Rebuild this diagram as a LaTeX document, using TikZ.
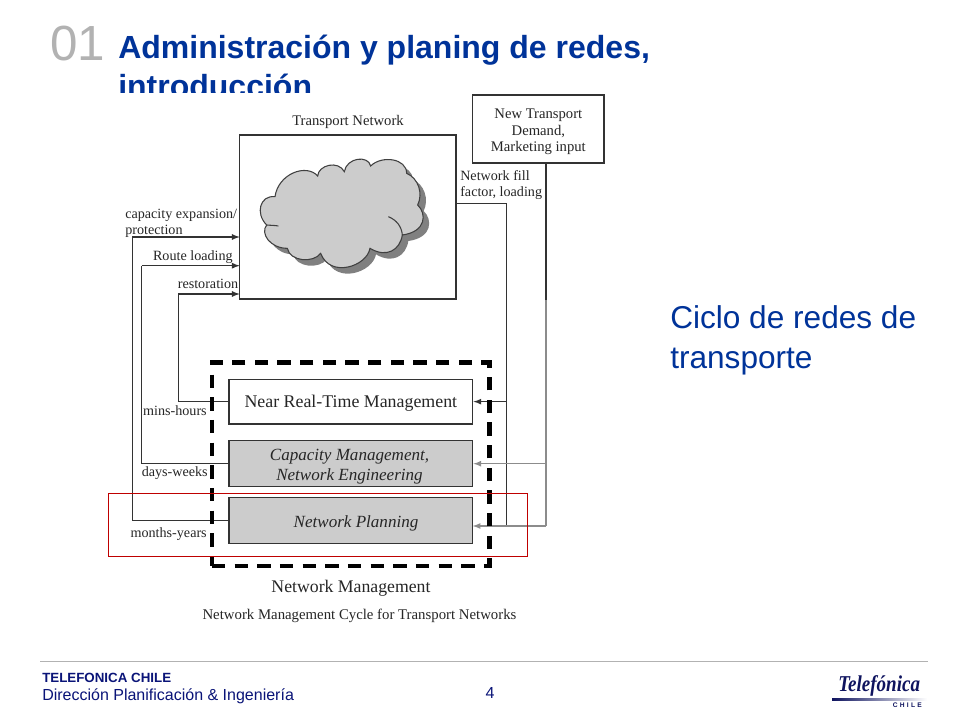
\documentclass[tikz,border=0pt]{standalone}
\usepackage{fontspec}
\setmainfont{Liberation Serif}
\setsansfont{Liberation Sans}
\definecolor{titleblue}{RGB}{0,51,153}
\definecolor{footnavy}{RGB}{10,20,120}
\definecolor{logonavy}{RGB}{15,20,95}
\newcommand{\cloudpath}{(75,140) .. controls (85,70) and (170,40) .. (203,78)
  .. controls (205,45) and (265,30) .. (283,65)
  .. controls (290,22) and (355,15) .. (362,48)
  .. controls (395,15) and (470,25) .. (470,70)
  .. controls (505,85) and (520,130) .. (503,165)
  .. controls (530,190) and (530,245) .. (457,255)
  .. controls (450,300) and (410,325) .. (360,295)
  .. controls (350,350) and (240,385) .. (212,310)
  .. controls (190,340) and (120,335) .. (112,295)
  .. controls (60,295) and (30,250) .. (50,225)
  .. controls (15,190) and (30,135) .. (75,140) -- cycle}
\tikzset{
  box/.style={draw=black!80, line width=1.1pt, inner sep=0pt},
  greybox/.style={box, fill=black!20},
  lbl/.style={inner sep=0pt, align=center, text=black!85, font=\fontsize{10.6}{12}\selectfont},
  boxlbl/.style={lbl, font=\fontsize{13.4}{16}\selectfont},
  greylbl/.style={lbl, font=\fontsize{12.8}{15}\selectfont\itshape},
  link/.style={draw=black!80, line width=1pt},
  lightlink/.style={draw=black!45, line width=1pt},
  slide/.style={inner sep=0pt, font=\sffamily},
}
\begin{document}
\begin{tikzpicture}[x=0.75pt, y=-0.75pt]
    \useasboundingbox (0,0) rectangle (960,720);
    \fill[white] (0,0) rectangle (960,720);

    % heading, second line cut off by the figure
    \node[slide, anchor=base west, text=black!30, font=\sffamily\fontsize{37}{37}\selectfont] (number) at (50,61) {01};
    \node[slide, anchor=base west, text=titleblue, font=\sffamily\bfseries\fontsize{24}{24}\selectfont] (title) at (118,59) {Administración y planing de redes,};
    \begin{scope}
        \clip (100,70) rectangle (480,93);
        \node[slide, anchor=base west, text=titleblue, font=\sffamily\bfseries\fontsize{24}{24}\selectfont] (titleb) at (118,98) {introducción};
    \end{scope}

    % boxes
    \node[box, minimum width=162.2pt, minimum height=123pt] (transport) at (347.85,217) {};
    \node[box, minimum width=98.5pt, minimum height=51pt] (demand) at (538.35,129) {};
    \node[box, minimum width=182.8pt, minimum height=33.5pt] (nearrt) at (350.85,401.65) {};
    \node[greybox, minimum width=182.8pt, minimum height=34.5pt] (capacity) at (350.85,463.7) {};
    \node[greybox, minimum width=182.8pt, minimum height=34.2pt] (planning) at (350.85,520.5) {};
    \node[lbl, font=\fontsize{11}{12.4}\selectfont] (demandtxt) at (538.35,132) {New Transport\\Demand,\\Marketing input};
    \node[boxlbl] (nearrttxt) at (350.85,403.5) {Near Real-Time Management};
    \node[greylbl] (capacitytxt) at (349.5,467) {Capacity Management,\\Network Engineering};
    \node[greylbl] (planningtxt) at (356,523) {Network Planning};

    % cloud
    \begin{scope}[shift={(250,150)}, x=0.25pt, y=-0.25pt]
        \fill[black!50] [shift={(18,18)}] \cloudpath;
        \draw[fill=black!20, draw=black!75, line width=0.8pt] \cloudpath;
        \draw[black!75, line width=0.8pt] (457,255) .. controls (455,230) and (440,210) .. (415,200);
        \draw[black!75, line width=0.8pt] (50,225) .. controls (60,226) and (75,226) .. (85,228);
    \end{scope}

    % left side connectors
    \coordinate (elbowa) at (132.3,237);
    \coordinate (elbowb) at (141.7,265.7);
    \coordinate (elbowc) at (178.3,294);
    \coordinate (ina) at (239.7,237);
    \coordinate (inb) at (239.7,265.7);
    \coordinate (inc) at (239.7,294);
    \draw[link] (planning.west) -| (elbowa);
    \draw[link] (capacity.west) -| (elbowb);
    \draw[link] (nearrt.west) -| (elbowc);
    \draw[link, -latex] (elbowa) -- (ina);
    \draw[link, -latex] (elbowb) -- (inb);
    \draw[link, -latex] (elbowc) -- (inc);

    % right side connectors
    \coordinate (outload) at (456,203.3);
    \coordinate (elbowload) at (506.7,203.3);
    \coordinate (endload) at (506.7,526);
    \coordinate (joinnear) at (506.7,401.65);
    \coordinate (inplan) at (472.7,526);
    \coordinate (downdemand) at (546,300);
    \coordinate (joincap) at (546,463.7);
    \coordinate (enddemand) at (546,526);
    \draw[link] (outload) -- (elbowload) -- (endload);
    \draw[link, -latex] (joinnear) -- (nearrt.east);
    \draw[link] (demand.south -| downdemand) -- (downdemand);
    \draw[lightlink] (downdemand) -- (enddemand);
    \draw[lightlink, -latex] (joincap) -- (capacity.east);
    \draw[lightlink, -latex] (enddemand) -- (inplan);

    % labels
    \node[lbl, font=\fontsize{11}{12}\selectfont] (lbltransport) at (348,121.5) {Transport Network};
    \node[lbl, anchor=base west, align=left] (lblfill) at (460,197) {Network fill\\factor, loading};
    \node[lbl, anchor=base west, align=left] (lblexp) at (125,235) {capacity expansion/\\protection};
    \node[lbl, anchor=base east] (lblroute) at (233,261) {Route loading};
    \node[lbl, anchor=base east] (lblrest) at (238.5,289) {restoration};
    \node[lbl, anchor=base east] (lblmins) at (207,415) {mins-hours};
    \node[lbl, anchor=base east] (lbldays) at (208,476) {days-weeks};
    \node[lbl, anchor=base east] (lblmonths) at (207,537) {months-years};
    \node[lbl, font=\fontsize{13.3}{14}\selectfont] (lblmanage) at (351,588) {Network Management};
    \node[lbl, font=\fontsize{11.1}{12}\selectfont] (lblcycle) at (359.5,615.5) {Network Management Cycle for Transport Networks};

    % dashed frame and red mark
    \node[draw=black, line width=3.4pt, dash pattern=on 10pt off 7pt, inner sep=0pt, minimum width=208.3pt, minimum height=152.5pt] (frame) at (350.85,464.35) {};
    \node[draw=red!75!black, line width=0.7pt, inner sep=0pt, minimum width=314.3pt, minimum height=47pt] (mark) at (317.8,525) {};

    % text on the right
    \node[slide, anchor=base west, align=left, text=titleblue, font=\sffamily\fontsize{23.7}{30}\selectfont] (cicle) at (670,368) {Ciclo de redes de\\transporte};

    % footer
    \coordinate (rulea) at (40,661.5);
    \coordinate (ruleb) at (928,661.5);
    \draw[black!30, line width=0.8pt] (rulea) -- (ruleb);
    \node[slide, anchor=base west, text=footnavy, font=\sffamily\bfseries\fontsize{10}{12}\selectfont] (company) at (42,682) {TELEFONICA CHILE};
    \node[slide, anchor=base west, text=footnavy, font=\sffamily\fontsize{12}{14}\selectfont] (dept) at (42,700.5) {Dirección Planificación \& Ingeniería};
    \node[slide, anchor=base, text=footnavy, font=\sffamily\fontsize{12}{14}\selectfont] (page) at (490,698) {4};

    % logo
    \node[inner sep=0pt, anchor=base west, text=logonavy, font=\bfseries\itshape\fontsize{17}{17}\selectfont] (logo) at (838,691) {\scalebox{0.84}[1]{Telefónica}};
    \shade[left color=logonavy, right color=white] (832,698.5) rectangle (927,700);
    \node[inner sep=0pt, anchor=base east, text=logonavy, font=\sffamily\bfseries\fontsize{5}{6}\selectfont] (logob) at (922,707.5) {C\,\,H\,\,I\,\,L\,\,E};
\end{tikzpicture}
\end{document}
